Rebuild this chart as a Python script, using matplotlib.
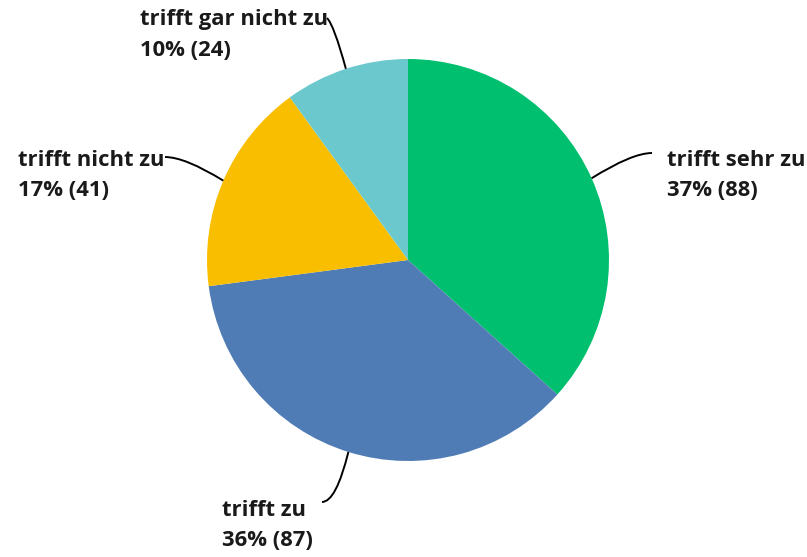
import matplotlib.pyplot as plt
import numpy as np
from matplotlib.path import Path
from matplotlib.patches import PathPatch

# data
labels = ["trifft sehr zu", "trifft zu", "trifft nicht zu", "trifft gar nicht zu"]
counts = [88, 87, 41, 24]
colors = ["#00bf6f", "#507cb6", "#f9be00", "#6bc8cd"]

# layout (pixel coords, y pointing up)
W, H = 807, 557
cx, cy, r = 408, 297, 201
# leader end point, bezier control point, text left x, first line y
layout = [
    ((652, 404), (632, 404), 667, 397),
    ((322, 55), (336, 55), 222, 47),
    ((165, 400), (185, 400), 18, 397),
    ((327, 539), (334, 532), 140, 537),
]

plt.rcParams["font.family"] = ["Open Sans", "DejaVu Sans"]

fig = plt.figure(figsize=(W / 100, H / 100), dpi=100)
ax = fig.add_axes([0, 0, 1, 1])

ax.pie(counts, colors=colors, startangle=90, counterclock=False,
       center=(cx, cy), radius=r, frame=True,
       wedgeprops=dict(linewidth=0))
ax.set_xlim(0, W)
ax.set_ylim(0, H)
ax.set_aspect("equal")
ax.axis("off")

total = sum(counts)
start = 0
for lab, n, (end, ctrl, tx, ty) in zip(labels, counts, layout):
    mid = np.deg2rad((start + n / 2) / total * 360)
    start += n
    ax_pt = (cx + r * np.sin(mid), cy + r * np.cos(mid))
    path = Path([ax_pt, ctrl, end], [Path.MOVETO, Path.CURVE3, Path.CURVE3])
    ax.add_patch(PathPatch(path, fc="none", ec="black", lw=1.4))
    pct = round(n / total * 100)
    ax.text(tx, ty, lab, ha="left", va="center", fontsize=15.8,
            fontweight="bold", color="#1a1a1a")
    ax.text(tx, ty - 30, f"{pct}% ({n})", ha="left", va="center",
            fontsize=15.8, fontweight="bold", color="#1a1a1a")

fig.savefig("out.png", dpi=100)
